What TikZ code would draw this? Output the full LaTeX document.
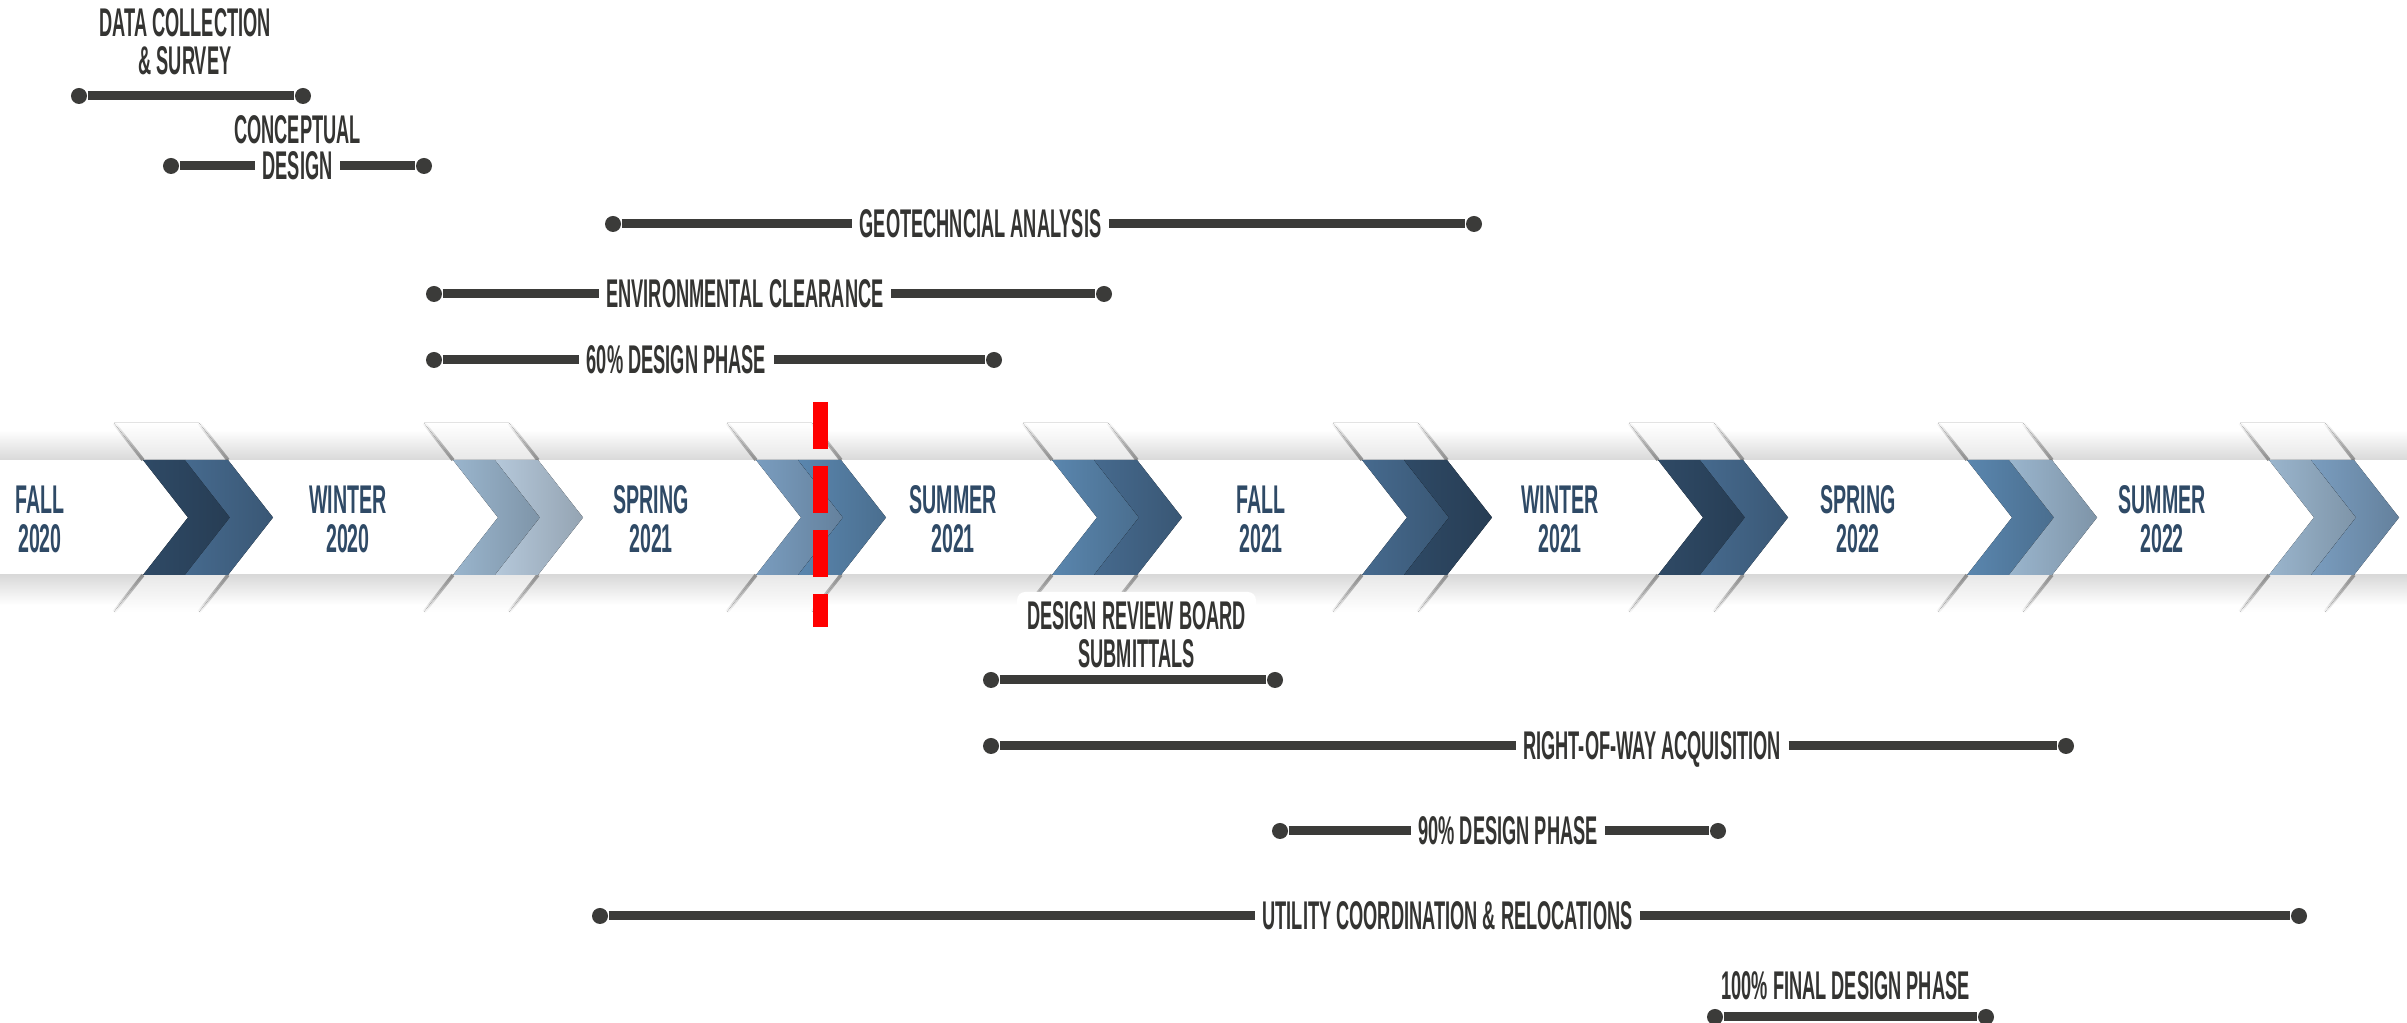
\documentclass[tikz,border=0pt]{standalone}
\usepackage{fontspec}
\usetikzlibrary{fadings}
\newfontfamily\phasefont[FakeStretch=0.455]{Liberation Sans}
\newfontfamily\seasonfont[FakeStretch=0.49]{Liberation Sans}
\definecolor{bargray}{RGB}{59,59,57}
\definecolor{labelgray}{RGB}{52,52,50}
\definecolor{seasonblue}{RGB}{47,74,102}
\definecolor{navy}{RGB}{47,74,102}
\definecolor{steel}{RGB}{70,106,142}
\definecolor{midblue}{RGB}{90,134,174}
\definecolor{softblue}{RGB}{122,157,191}
\definecolor{lightblue}{RGB}{154,181,205}
\definecolor{paleblue}{RGB}{181,200,218}
% chevron: x of back edge, back colour, front colour
\newcommand{\chevronat}[3]{%
  \fill[top color=white,bottom color=black!9] (#1,5.63) -- ++(0.85,0) -- ++(-0.29,0.37) -- ++(-0.85,0) -- cycle;
  \fill[top color=black!9,bottom color=white] (#1,4.48) -- ++(0.85,0) -- ++(-0.29,-0.37) -- ++(-0.85,0) -- cycle;
  \draw[black!45,line width=0.035cm,path fading=north] (#1,5.63) -- ++(-0.29,0.37) ({#1+0.85},5.63) -- ++(-0.29,0.37);
  \draw[black!45,line width=0.035cm,path fading=south] (#1,4.48) -- ++(-0.29,-0.37) ({#1+0.85},4.48) -- ++(-0.29,-0.37);
  \fill[left color=#2,right color=#2!82!black] (#1,5.63) -- ++(0.42,0) -- ++(0.45,-0.575) -- ++(-0.45,-0.575) -- ++(-0.42,0) -- ++(0.45,0.575) -- cycle;
  \fill[left color=#3,right color=#3!82!black] ({#1+0.42},5.63) -- ++(0.43,0) -- ++(0.45,-0.575) -- ++(-0.45,-0.575) -- ++(-0.43,0) -- ++(0.45,0.575) -- cycle;
}
\begin{document}
\begin{tikzpicture}[
    dot/.style={circle,fill=bargray,minimum size=0.16cm,inner sep=0pt},
    bar/.style={draw=bargray,line width=0.09cm},
    phase/.style={font=\phasefont\bfseries\fontsize{11.4}{11.4}\selectfont,text=labelgray,inner sep=0.07cm,text height=7.9pt,text depth=0pt},
    phase2/.style={font=\phasefont\bfseries\fontsize{11.4}{10.7}\selectfont,text=labelgray,inner sep=0pt,align=center},
    season/.style={font=\seasonfont\bfseries\fontsize{11.4}{11.1}\selectfont,text=seasonblue,inner sep=0pt,align=center}]
  \useasboundingbox (0,0) rectangle (24.07,10.23);
  \fill[white] (0,0) rectangle (24.07,10.23);

  % band
  \fill[top color=white,bottom color=black!15] (0,5.63) rectangle (24.07,5.93);
  \fill[top color=black!15,bottom color=white] (0,4.18) rectangle (24.07,4.48);
  \chevronat{1.43}{navy}{steel}
  \chevronat{4.53}{lightblue}{paleblue}
  \chevronat{7.56}{softblue}{midblue}
  \chevronat{10.52}{midblue}{steel}
  \chevronat{13.62}{steel}{navy}
  \chevronat{16.58}{navy}{steel}
  \chevronat{19.67}{midblue}{lightblue}
  \chevronat{22.69}{lightblue}{softblue}

  \node[season] (fall20) at (0.40,5.035) {FALL\\2020};
  \node[season] (win20) at (3.48,5.035) {WINTER\\2020};
  \node[season] (spr21) at (6.51,5.035) {SPRING\\2021};
  \node[season] (sum21) at (9.53,5.035) {SUMMER\\2021};
  \node[season] (fall21) at (12.61,5.035) {FALL\\2021};
  \node[season] (win21) at (15.60,5.035) {WINTER\\2021};
  \node[season] (spr22) at (18.58,5.035) {SPRING\\2022};
  \node[season] (sum22) at (21.62,5.035) {SUMMER\\2022};

  % today
  \coordinate (nowT) at (8.20,6.21);
  \coordinate (nowB) at (8.20,3.96);
  \draw[red,line width=0.15cm,dash pattern=on 0.47cm off 0.17cm] (nowT) -- (nowB);

  % tasks above
  \node[dot] (dcL) at (0.79,9.27) {};
  \node[dot] (dcR) at (3.03,9.27) {};
  \node[phase2] (dc) at (1.85,9.81) {DATA COLLECTION\\\& SURVEY};
  \draw[bar] (dcL) -- (dcR);

  \node[dot] (cdL) at (1.71,8.57) {};
  \node[dot] (cdR) at (4.24,8.57) {};
  \node[phase] (cdTop) at (2.975,8.93) {CONCEPTUAL};
  \node[phase] (cd) at (2.975,8.57) {DESIGN};
  \draw[bar] (cdL) -- (cd) (cd) -- (cdR);

  \node[dot] (geoL) at (6.13,7.99) {};
  \node[dot] (geoR) at (14.74,7.99) {};
  \node[phase] (geo) at (9.805,7.99) {GEOTECHNCIAL ANALYSIS};
  \draw[bar] (geoL) -- (geo) (geo) -- (geoR);

  \node[dot] (envL) at (4.34,7.29) {};
  \node[dot] (envR) at (11.04,7.29) {};
  \node[phase] (env) at (7.45,7.29) {ENVIRONMENTAL CLEARANCE};
  \draw[bar] (envL) -- (env) (env) -- (envR);

  \node[dot] (sixL) at (4.34,6.63) {};
  \node[dot] (sixR) at (9.94,6.63) {};
  \node[phase] (six) at (6.765,6.63) {60\% DESIGN PHASE};
  \draw[bar] (sixL) -- (six) (six) -- (sixR);

  % tasks below
  \node[phase2,fill=white,inner sep=0.1cm,rounded corners=0.08cm] (drb) at (11.365,3.88) {DESIGN REVIEW BOARD\\SUBMITTALS};
  \node[dot] (drbL) at (9.91,3.43) {};
  \node[dot] (drbR) at (12.75,3.43) {};
  \draw[bar] (drbL) -- (drbR);

  \node[dot] (rowL) at (9.91,2.77) {};
  \node[dot] (rowR) at (20.66,2.77) {};
  \node[phase] (row) at (16.52,2.77) {RIGHT-OF-WAY ACQUISITION};
  \draw[bar] (rowL) -- (row) (row) -- (rowR);

  \node[dot] (nineL) at (12.80,1.92) {};
  \node[dot] (nineR) at (17.18,1.92) {};
  \node[phase] (nine) at (15.08,1.92) {90\% DESIGN PHASE};
  \draw[bar] (nineL) -- (nine) (nine) -- (nineR);

  \node[dot] (utilL) at (6.00,1.07) {};
  \node[dot] (utilR) at (22.99,1.07) {};
  \node[phase] (util) at (14.475,1.07) {UTILITY COORDINATION \& RELOCATIONS};
  \draw[bar] (utilL) -- (util) (util) -- (utilR);

  \node[dot] (fullL) at (17.15,0.06) {};
  \node[dot] (fullR) at (19.86,0.06) {};
  \node[phase] (full) at (18.455,0.37) {100\% FINAL DESIGN PHASE};
  \draw[bar] (fullL) -- (fullR);
\end{tikzpicture}
\end{document}
